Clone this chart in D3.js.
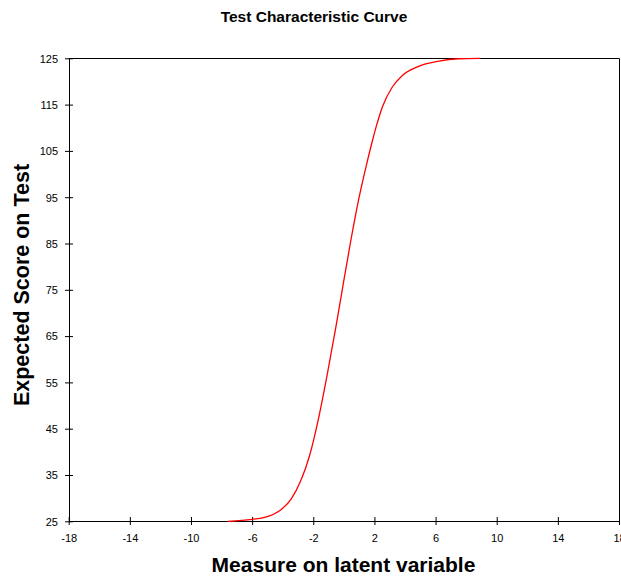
<!DOCTYPE html>
<html><head><meta charset="utf-8">
<script src="https://cdn.jsdelivr.net/npm/d3@7"></script>
<style>body{margin:0;background:#fff;} svg{display:block;}</style>
</head><body>
<svg id="chart" width="621" height="576"></svg>
<script>
const title = "Test Characteristic Curve";
const xLabel = "Measure on latent variable";
const yLabel = "Expected Score on Test";
const xTicks = [-18, -14, -10, -6, -2, 2, 6, 10, 14, 18];
const yTicks = [25, 35, 45, 55, 65, 75, 85, 95, 105, 115, 125];
const theta = [-7.6, -6.0, -4.9, -4.0, -3.45, -2.8, -2.26, -1.93, -1.67, -1.07, -0.52, -0.13, 0.46, 1.0, 1.48, 1.87, 2.13, 2.52, 3.17, 3.83, 4.92, 6.22, 7.5, 8.9];
const score = [25.0, 25.4, 26.1, 27.8, 29.8, 33.9, 39.0, 43.2, 47.0, 57.0, 67.0, 74.5, 85.7, 95.0, 102.0, 107.2, 110.4, 114.5, 118.8, 121.3, 123.3, 124.4, 124.9, 125.0];

const svg = d3.select("#chart");
const L = 68.7, R = 619, T = 58.3, B = 521.3;
const x = d3.scaleLinear().domain([-18, 18]).range([L, R]);
const y = d3.scaleLinear().domain([25, 125]).range([B, T]);
const font = "'Liberation Sans', Arial, sans-serif";
const fmt = d => String(d);

// frame top and right
svg.append("line").attr("x1", L).attr("x2", R).attr("y1", Math.round(T)+0.5).attr("y2", Math.round(T)+0.5).attr("stroke", "#000");
svg.append("line").attr("x1", Math.round(R)+0.5).attr("x2", Math.round(R)+0.5).attr("y1", T).attr("y2", B).attr("stroke", "#000");

// axes
const xAxis = d3.axisBottom(x).tickValues(xTicks).tickSizeInner(4).tickSizeOuter(0).tickFormat(fmt);
const gx = svg.append("g").attr("transform", `translate(0,${Math.round(B)})`).call(xAxis);
gx.selectAll(".tick line").attr("y1", -4).attr("y2", 4).attr("stroke", "#000");
gx.select(".domain").attr("stroke", "#000");
gx.selectAll("text").attr("font-family", font).attr("font-size", 11).attr("fill", "#000").attr("dy", null).attr("y", 21);

const yAxis = d3.axisLeft(y).tickValues(yTicks).tickSizeInner(4).tickSizeOuter(0).tickFormat(fmt);
const gy = svg.append("g").attr("transform", `translate(${Math.round(L)},0)`).call(yAxis);
gy.selectAll(".tick line").attr("x1", -4).attr("x2", 4).attr("stroke", "#000");
gy.select(".domain").attr("stroke", "#000");
gy.selectAll("text").attr("font-family", font).attr("font-size", 11).attr("fill", "#000").attr("x", -11).attr("dy", "0.35em");

// curve
const pts = theta.map((t, i) => [t, score[i]]);
svg.append("path").datum(pts)
  .attr("fill", "none").attr("stroke", "#ff0000").attr("stroke-width", 1.3)
  .attr("d", d3.line().x(d => x(d[0])).y(d => y(d[1])).curve(d3.curveMonotoneX));

// titles
svg.append("text").attr("x", 314).attr("y", 22).attr("text-anchor", "middle")
  .attr("font-family", font).attr("font-weight", "bold").attr("font-size", 15.5).text(title);
svg.append("text").attr("x", 343.5).attr("y", 572).attr("text-anchor", "middle")
  .attr("font-family", font).attr("font-weight", "bold").attr("font-size", 21).text(xLabel);
svg.append("text").attr("transform", "translate(29,285) rotate(-90)").attr("text-anchor", "middle")
  .attr("font-family", font).attr("font-weight", "bold").attr("font-size", 21.5).text(yLabel);
</script>
</body></html>
